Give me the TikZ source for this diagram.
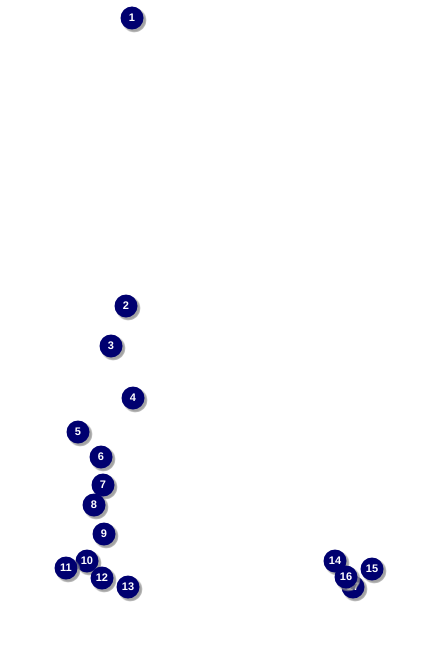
\documentclass[tikz,border=0pt]{standalone}
\usepackage{fontspec}
\setmainfont{Liberation Sans}
\usetikzlibrary{shadows}
\definecolor{navy}{RGB}{0,0,112}

\begin{document}
\begin{tikzpicture}[x=1pt, y=-1pt]

% Canvas
\useasboundingbox (0,0) rectangle (435,650);

% Styles
\tikzset{
  stopdot/.style={circle, fill=navy, minimum size=23pt, inner sep=0pt,
    text=white, font=\fontsize{11}{11}\selectfont\bfseries,
    circular drop shadow={shadow xshift=1.8pt, shadow yshift=-1.8pt,
      fill=black!45, opacity=0.8}}
}

% Numbered points
\foreach \i/\x/\y in {1/132/18, 2/126/306, 3/111/346, 4/133/398,
  5/78/432, 6/101/457, 7/103/485, 8/94/505, 9/104/534,
  10/87/561, 11/66/568, 12/102/578, 13/128/587,
  14/335/561, 15/372/569, 17/353/587, 16/346/577}
{
    \node[stopdot] (n\i) at (\x,\y) {\i};
}

\end{tikzpicture}
\end{document}
